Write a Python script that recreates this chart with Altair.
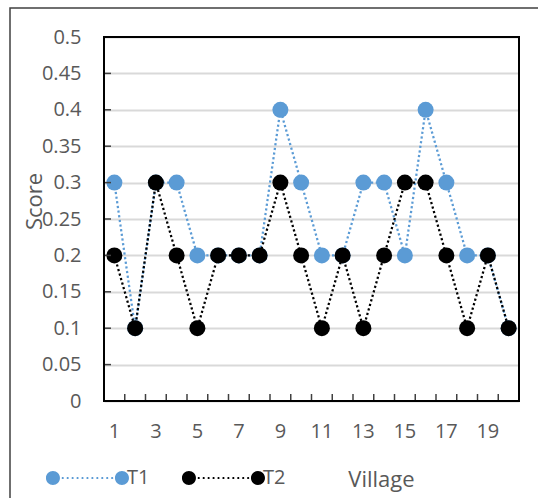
import altair as alt
import pandas as pd

# Scores per village for the two series
villages = list(range(1, 21))
t1_scores = [0.3, 0.1, 0.3, 0.3, 0.2, 0.2, 0.2, 0.2, 0.4, 0.3,
             0.2, 0.2, 0.3, 0.3, 0.2, 0.4, 0.3, 0.2, 0.2, 0.1]
t2_scores = [0.2, 0.1, 0.3, 0.2, 0.1, 0.2, 0.2, 0.2, 0.3, 0.2,
             0.1, 0.2, 0.1, 0.2, 0.3, 0.3, 0.2, 0.1, 0.2, 0.1]
series_names = ["T1", "T2"]
series_colors = ["#5B9BD5", "#000000"]
y_tick_values = [0, 0.05, 0.1, 0.15, 0.2, 0.25, 0.3, 0.35, 0.4, 0.45, 0.5]

df = pd.DataFrame({
    "village": villages * 2,
    "score": t1_scores + t2_scores,
    "series": ["T1"] * len(villages) + ["T2"] * len(villages),
})

W, H = 415, 364
FONT = "Open Sans"
TEXT = "#595959"


def circle_path(cx, r):
    return (f"M{cx + r},0 A{r},{r} 0 1 0 {cx - r},0 "
            f"A{r},{r} 0 1 0 {cx + r},0 Z")


# Legend glyph: marker, dotted segment, marker (units of marker radius),
# nudged right so the label sits against the second marker
shift = 0.71
gap = 9.86
dots = [shift - 1.4 - i * 0.706 for i in range(11)]
legend_symbol = " ".join(
    [circle_path(shift - gap, 1), circle_path(shift, 1)]
    + [circle_path(d, 0.16) for d in dots]
)

x_scale = alt.Scale(type="band", paddingInner=0, paddingOuter=0)
y_scale = alt.Scale(domain=[0, 0.5])
color_scale = alt.Scale(domain=series_names, range=series_colors)

x_axis = alt.Axis(
    ticks=False, domain=False, grid=False, labelAngle=0,
    labelFont=FONT, labelFontSize=20, labelColor=TEXT, labelPadding=20,
    labelExpr="datum.value % 2 == 1 ? datum.label : ''",
    titleFont=FONT, titleFontSize=22, titleFontWeight="normal", titleColor=TEXT,
    titleX=277, titleY=85, titleAlign="center", titleBaseline="alphabetic",
)
y_axis = alt.Axis(
    values=y_tick_values, format=".2~f", ticks=False, domain=False,
    grid=True, gridColor="#d9d9d9", gridWidth=2,
    labelFont=FONT, labelFontSize=20, labelColor=TEXT, labelPadding=23,
    titleFont=FONT, titleFontSize=22, titleFontWeight="normal", titleColor=TEXT,
    titleX=-70, titleY=164, titleAngle=270, titleAlign="center", titleBaseline="middle",
)


def x_enc(**kw):
    return alt.X("village:O", scale=x_scale, axis=x_axis, title="Village", **kw)


def y_enc(field="score:Q"):
    return alt.Y(field, scale=y_scale, axis=y_axis, title="Score")


legend = alt.Legend(
    orient="none", direction="horizontal", columns=2, legendX=3, legendY=431,
    title=None, symbolType=legend_symbol, symbolSize=196, symbolStrokeWidth=0,
    labelFont=FONT, labelFontSize=20, labelColor=TEXT, labelOffset=0,
    columnPadding=31, padding=0,
)

base = alt.Chart(df)
layers = []
for name, col in zip(series_names, series_colors):
    sel = alt.datum.series == name
    layers.append(
        base.mark_line(strokeWidth=2.25, strokeDash=[2.2, 2.5], color=col)
        .encode(x=x_enc(), y=y_enc())
        .transform_filter(sel)
    )
    layers.append(
        base.mark_point(filled=True, size=256, opacity=1, strokeWidth=0)
        .encode(x=x_enc(), y=y_enc(),
                color=alt.Color("series:N", scale=color_scale, legend=legend))
        .transform_filter(sel)
    )

# Inward tick marks on both axes
x_ticks = alt.Chart(pd.DataFrame({"village": villages})).mark_rule(
    color="#404040", strokeWidth=1.5
).encode(x=x_enc(bandPosition=0), y=alt.value(H), y2=alt.value(H - 7))

y_ticks = alt.Chart(pd.DataFrame({"score": y_tick_values})).mark_rule(
    color="#404040", strokeWidth=1.5
).encode(y=y_enc(), x=alt.value(0), x2=alt.value(7))

one_row = pd.DataFrame({"k": [0]})
plot_frame = alt.Chart(one_row).mark_rect(
    fillOpacity=0, stroke="#000000", strokeWidth=2
).encode(x=alt.value(0), x2=alt.value(W), y=alt.value(0), y2=alt.value(H))

outer_frame = alt.Chart(one_row).mark_rect(
    fillOpacity=0, stroke="#404040", strokeWidth=1.5
).encode(x=alt.value(-94), x2=alt.value(W + 40), y=alt.value(-29), y2=alt.value(H + 110))

chart = alt.layer(
    *layers, x_ticks, y_ticks, plot_frame, outer_frame
).properties(
    width=W, height=H,
    padding={"left": 104, "top": 37, "right": 19, "bottom": 97},
    autosize=alt.AutoSizeParams(type="none"),
).configure_view(strokeWidth=0)

chart.save("out.html", embed_options={"renderer": "svg", "actions": False})
